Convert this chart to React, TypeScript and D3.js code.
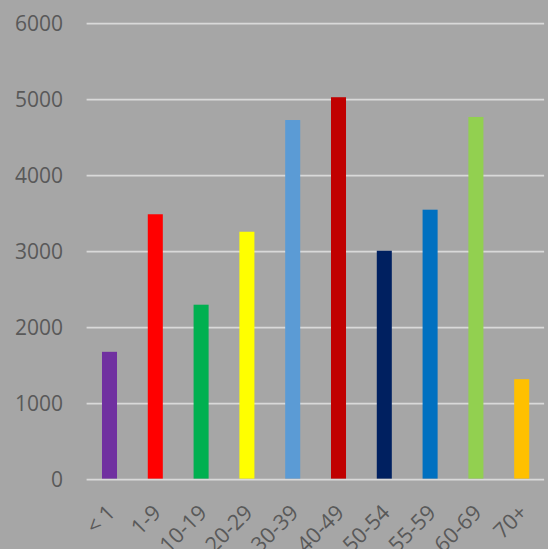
import React from "react";
import * as d3 from "d3";

// Age groups and their counts
const categories = ["< 1", "1-9", "10-19", "20-29", "30-39", "40-49", "50-54", "55-59", "60-69", "70+"];
const values = [1680, 3490, 2300, 3260, 4730, 5030, 3010, 3550, 4770, 1320];
const barColors = ["#7030a0", "#ff0000", "#00b050", "#ffff00", "#5b9bd5", "#c00000", "#002060", "#0070c0", "#92d050", "#ffc000"];
const yTicks = [0, 1000, 2000, 3000, 4000, 5000, 6000];

const W = 548;
const H = 549;
const margin = { left: 86.6, right: 3.4, top: 23.5, bottom: 69.5 };

export default function App() {
  const x = d3
    .scaleBand<string>()
    .domain(categories)
    .range([margin.left, W - margin.right])
    .paddingInner(0.672)
    .paddingOuter(0.336);
  const y = d3.scaleLinear().domain([0, 6000]).range([H - margin.bottom, margin.top]);
  const font = "'Open Sans', 'Noto Sans', sans-serif";

  return (
    <svg
      width={W}
      height={H}
      style={{ position: "fixed", left: 0, top: 0, display: "block" }}
    >
      <rect x={0} y={0} width={W} height={H} fill="#a6a6a6" />
      {yTicks.map((t) => (
        <g key={t}>
          <line x1={margin.left} x2={W - margin.right - 0.5} y1={y(t)} y2={y(t)} stroke="#d9d9d9" strokeWidth={1.75} />
          <text
            x={63}
            y={y(t)}
            dy="0.35em"
            textAnchor="end"
            fontFamily={font}
            fontSize={21}
            fill="#595959"
          >
            {t}
          </text>
        </g>
      ))}
      {categories.map((c, i) => (
        <rect
          key={c}
          x={x(c)}
          y={y(values[i])}
          width={x.bandwidth()}
          height={y(0) - y(values[i]) - 0.9}
          fill={barColors[i]}
        />
      ))}
      {categories.map((c) => {
        const cx = (x(c) as number) + x.bandwidth() / 2;
        return (
          <text
            key={c}
            transform={`translate(${cx + 7},${514}) rotate(-45)`}
            textAnchor="end"
            fontFamily={font}
            fontSize={21.5}
            fill="#595959"
          >
            {c}
          </text>
        );
      })}
    </svg>
  );
}
